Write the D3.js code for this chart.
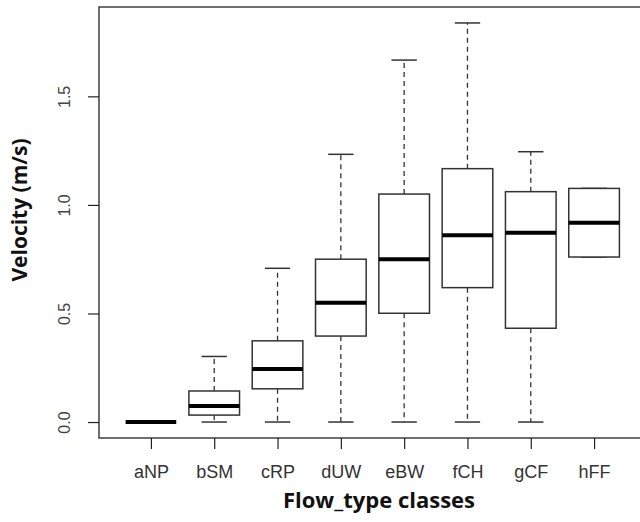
<!DOCTYPE html>
<html>
<head>
<meta charset="utf-8">
<script src="https://cdn.jsdelivr.net/npm/d3@7"></script>
<style>
  html, body { margin: 0; padding: 0; background: #fff; }
  svg { display: block; }
</style>
</head>
<body>
<div id="chart"></div>
<script>
/* Boxplot of velocity by flow type class (R-style). */

var categories = ["aNP", "bSM", "cRP", "dUW", "eBW", "fCH", "gCF", "hFF"];
var whiskerLow = [0, 0, 0, 0, 0, 0, 0, 0.760];
var q1 = [0, 0.032, 0.153, 0.396, 0.501, 0.619, 0.432, 0.760];
var median = [0, 0.074, 0.244, 0.549, 0.750, 0.860, 0.872, 0.918];
var q3 = [0, 0.143, 0.374, 0.750, 1.050, 1.167, 1.061, 1.076];
var whiskerHigh = [0, 0.302, 0.708, 1.233, 1.667, 1.838, 1.245, 1.076];
var yTicks = [0, 0.5, 1.0, 1.5];

var width = 640, height = 522;
var margin = { top: 7, right: -6, bottom: 84, left: 99 };

var svg = d3.select("#chart").append("svg")
  .attr("width", width).attr("height", height);

var data = categories.map(function (c, i) {
  return { cat: c, lo: whiskerLow[i], q1: q1[i], med: median[i], q3: q3[i], hi: whiskerHigh[i] };
});

var x0 = margin.left, x1 = width - margin.right;
var y0 = height - margin.bottom, y1 = margin.top;

// R pads the x range [0.5, n + 0.5] by 4% on each side
var n = categories.length;
var pad = (n * 0.04);
var xNum = d3.scaleLinear().domain([0.5 - pad, n + 0.5 + pad]).range([x0, x1]);
var x = function (c) { return xNum(categories.indexOf(c) + 1); };
var step = xNum(2) - xNum(1);
var boxW = step * 0.8;
var capW = boxW * 0.5;

var yMax = d3.max(whiskerHigh), yMin = 0;
var yPad = (yMax - yMin) * 0.04;
var y = d3.scaleLinear().domain([yMin - yPad, yMax + yPad]).range([y0, y1]);

var ink = "#333";

// boxes
var g = svg.selectAll("g.box").data(data).enter().append("g").attr("class", "box");

g.append("line")
  .attr("x1", function (d) { return x(d.cat); }).attr("x2", function (d) { return x(d.cat); })
  .attr("y1", function (d) { return y(d.q3); }).attr("y2", function (d) { return y(d.hi); })
  .attr("stroke", ink).attr("stroke-width", 1.3).attr("stroke-dasharray", "5,4");
g.append("line")
  .attr("x1", function (d) { return x(d.cat); }).attr("x2", function (d) { return x(d.cat); })
  .attr("y1", function (d) { return y(d.q1); }).attr("y2", function (d) { return y(d.lo); })
  .attr("stroke", ink).attr("stroke-width", 1.3).attr("stroke-dasharray", "5,4");

["hi", "lo"].forEach(function (k) {
  g.append("line")
    .attr("x1", function (d) { return x(d.cat) - capW / 2; })
    .attr("x2", function (d) { return x(d.cat) + capW / 2; })
    .attr("y1", function (d) { return y(d[k]); }).attr("y2", function (d) { return y(d[k]); })
    .attr("stroke", ink).attr("stroke-width", 1.5);
});

g.filter(function (d) { return d.q3 > d.q1; }).append("rect")
  .attr("x", function (d) { return x(d.cat) - boxW / 2; })
  .attr("y", function (d) { return y(d.q3); })
  .attr("width", boxW)
  .attr("height", function (d) { return y(d.q1) - y(d.q3); })
  .attr("fill", "#fff").attr("stroke", ink).attr("stroke-width", 1.5);

g.append("line")
  .attr("x1", function (d) { return x(d.cat) - boxW / 2; })
  .attr("x2", function (d) { return x(d.cat) + boxW / 2; })
  .attr("y1", function (d) { return y(d.med); }).attr("y2", function (d) { return y(d.med); })
  .attr("stroke", "#000").attr("stroke-width", 4);

// frame
svg.append("rect")
  .attr("x", x0).attr("y", y1).attr("width", x1 - x0).attr("height", y0 - y1)
  .attr("fill", "none").attr("stroke", "#222").attr("stroke-width", 1.3);

// y axis
var yAxis = svg.append("g")
  .attr("transform", "translate(" + x0 + ",0)")
  .call(d3.axisLeft(y).tickValues(yTicks).tickFormat(d3.format(".1f")).tickSize(11).tickPadding(0));
yAxis.select(".domain").remove();
yAxis.selectAll(".tick line").attr("stroke", "#222").attr("stroke-width", 1.2);
yAxis.selectAll(".tick text")
  .attr("x", null).attr("dy", null)
  .attr("transform", "translate(-35,0) rotate(-90)")
  .attr("text-anchor", "middle").attr("dy", "0.35em")
  .attr("fill", "#444")
  .style("font-family", "'Liberation Sans', Arial, sans-serif")
  .style("font-size", "16px");

// x axis
var xAxis = svg.append("g")
  .attr("transform", "translate(0," + y0 + ")")
  .call(d3.axisBottom(xNum).tickValues(d3.range(1, n + 1))
    .tickFormat(function (v) { return categories[v - 1]; }).tickSize(11));
xAxis.select(".domain").remove();
xAxis.selectAll(".tick line").attr("stroke", "#222").attr("stroke-width", 1.2);
xAxis.selectAll(".tick text")
  .attr("y", 478 - y0).attr("dy", null)
  .attr("fill", "#333")
  .style("font-family", "'Liberation Sans', Arial, sans-serif")
  .style("font-size", "18px");

// titles
svg.append("text")
  .attr("x", 379).attr("y", 508)
  .attr("text-anchor", "middle")
  .style("font-family", "'Open Sans', sans-serif").style("font-weight", 700).style("font-size", "22px")
  .attr("fill", "#111")
  .text("Flow_type classes");

svg.append("text")
  .attr("transform", "translate(27,210) rotate(-90)")
  .attr("text-anchor", "middle")
  .style("font-family", "'Open Sans', sans-serif").style("font-weight", 700).style("font-size", "21px")
  .attr("fill", "#111")
  .text("Velocity (m/s)");
</script>
</body>
</html>
